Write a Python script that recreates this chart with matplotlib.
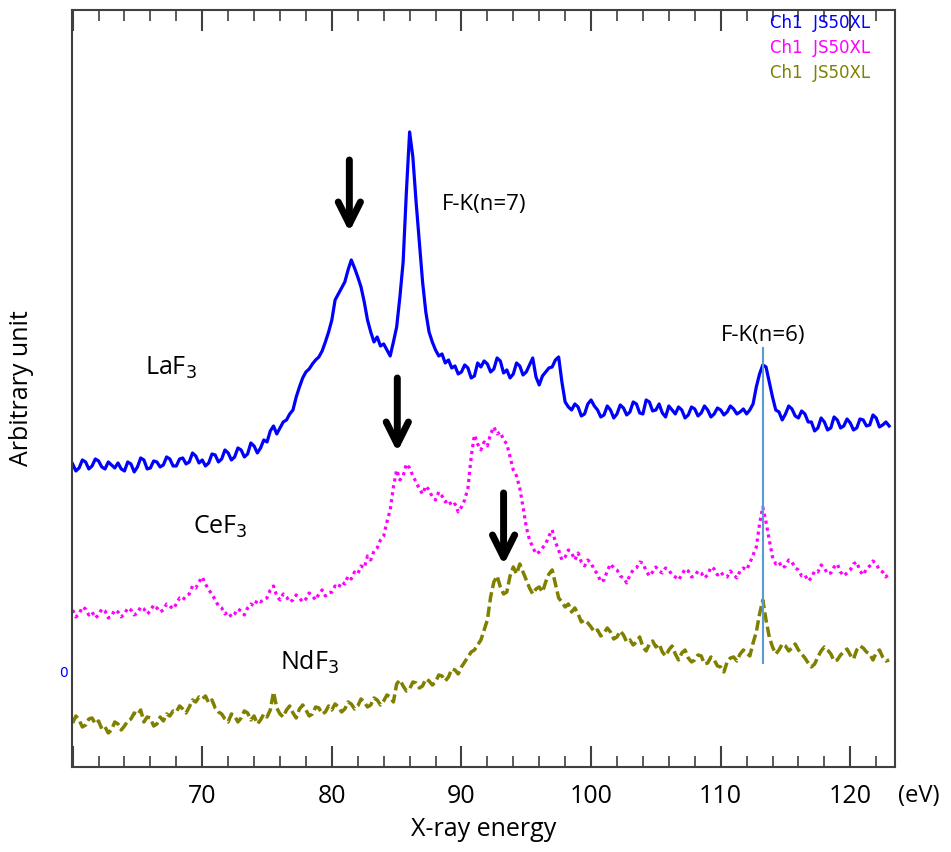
import numpy as np
import matplotlib
matplotlib.use('Agg')
import matplotlib.pyplot as plt

plt.rcParams['font.family'] = ['Open Sans', 'DejaVu Sans']

# X-ray energy (eV), 0.25 eV bins from 60 to 123
energy = np.linspace(60.0, 123.0, 253)

# LaF3 (offset, arbitrary unit)
laf3 = [208, 201, 204, 212, 210, 203, 206, 213, 211, 205, 203, 210, 207, 204, 209, 203, 201, 210, 208, 200,
        205, 214, 212, 203, 204, 211, 210, 205, 207, 215, 213, 206, 206, 213, 214, 208, 210, 219, 216, 209,
        212, 206, 209, 218, 217, 210, 213, 222, 219, 212, 215, 224, 222, 215, 218, 229, 226, 219, 224, 232,
        230, 241, 246, 238, 244, 250, 252, 258, 262, 275, 285, 294, 300, 303, 308, 312, 315, 321, 330, 340,
        352, 372, 378, 384, 390, 402, 412, 404, 395, 385, 370, 352, 340, 330, 335, 326, 328, 322, 316, 330,
        345, 375, 410, 480, 540, 515, 470, 430, 390, 360, 340, 330, 322, 316, 318, 309, 312, 304, 306, 298,
        300, 307, 304, 294, 296, 309, 305, 311, 308, 300, 303, 314, 311, 299, 302, 294, 298, 309, 306, 297,
        300, 307, 314, 295, 287, 296, 300, 304, 305, 312, 315, 290, 270, 265, 262, 268, 265, 256, 258, 268,
        272, 266, 262, 255, 257, 266, 262, 254, 258, 267, 264, 257, 260, 270, 268, 259, 258, 272, 270, 261,
        262, 268, 259, 255, 266, 262, 258, 265, 262, 254, 257, 265, 263, 256, 259, 266, 262, 255, 258, 264,
        262, 257, 260, 266, 263, 258, 260, 263, 258, 262, 268, 285, 298, 307, 305, 290, 275, 262, 260, 252,
        258, 266, 263, 256, 254, 261, 258, 250, 250, 241, 244, 254, 250, 242, 244, 255, 252, 244, 246, 253,
        249, 242, 244, 253, 252, 246, 247, 257, 254, 245, 247, 250, 246]

# CeF3
cef3 = [62, 55, 58, 65, 63, 57, 60, 54, 57, 63, 61, 54, 56, 62, 60, 55, 58, 64, 62, 57,
        59, 65, 63, 58, 61, 67, 64, 60, 62, 68, 66, 63, 68, 74, 72, 76, 78, 86, 84, 90,
        95, 88, 82, 78, 72, 66, 64, 58, 60, 55, 58, 63, 61, 57, 64, 68, 66, 72, 70, 73,
        74, 82, 86, 76, 72, 78, 75, 70, 72, 77, 74, 70, 73, 79, 76, 72, 78, 82, 76, 79,
        80, 86, 84, 90, 88, 96, 93, 100, 98, 106, 104, 116, 112, 121, 124, 132, 136, 150, 162, 185,
        202, 192, 196, 208, 204, 196, 190, 183, 178, 186, 182, 175, 172, 180, 176, 170, 172, 166, 168, 160,
        165, 172, 184, 215, 237, 228, 222, 230, 226, 238, 245, 238, 240, 232, 228, 215, 202, 196, 184, 165,
        145, 132, 125, 118, 120, 124, 128, 136, 142, 130, 122, 112, 115, 122, 119, 112, 119, 110, 106, 112,
        109, 102, 98, 90, 92, 101, 108, 104, 102, 96, 94, 89, 97, 102, 104, 110, 109, 101, 96, 100,
        105, 101, 99, 104, 102, 97, 95, 92, 97, 103, 101, 95, 96, 101, 99, 94, 97, 105, 103, 97,
        100, 96, 95, 101, 97, 94, 101, 104, 102, 109, 117, 125, 148, 165, 150, 132, 115, 108, 110, 104,
        106, 112, 110, 104, 102, 96, 97, 91, 94, 101, 100, 107, 104, 98, 99, 105, 108, 100, 96, 99,
        102, 108, 110, 101, 97, 103, 106, 111, 108, 102, 100, 95, 99]

# NdF3
ndf3 = [-51, -44, -48, -55, -53, -47, -46, -52, -49, -57, -55, -61, -58, -50, -52, -58, -54, -49, -47, -41,
        -43, -38, -50, -45, -46, -54, -52, -45, -49, -42, -44, -39, -40, -34, -37, -41, -35, -28, -30, -25,
        -27, -24, -31, -28, -36, -40, -42, -47, -50, -42, -44, -50, -46, -39, -41, -48, -44, -52, -48, -42,
        -45, -38, -20, -36, -42, -45, -38, -34, -41, -46, -37, -33, -38, -44, -42, -35, -36, -42, -40, -34,
        -38, -32, -35, -40, -37, -30, -32, -37, -34, -27, -30, -35, -33, -26, -28, -33, -29, -23, -25, -30,
        -12, -8, -14, -19, -17, -10, -11, -16, -14, -7, -9, -13, -10, -3, -4, -9, -5, 3, 2, -2,
        5, 10, 15, 20, 22, 27, 32, 42, 52, 75, 90, 96, 85, 78, 80, 96, 105, 98, 108, 100,
        92, 84, 78, 83, 85, 80, 90, 98, 102, 88, 74, 70, 65, 68, 60, 64, 58, 50, 52, 49,
        45, 40, 42, 36, 39, 44, 40, 33, 35, 41, 37, 30, 32, 27, 30, 35, 25, 21, 28, 31,
        25, 28, 20, 16, 22, 26, 18, 12, 19, 22, 14, 10, 12, 17, 16, 8, 9, 15, 12, 6,
        5, 0, 10, 14, 15, 11, 18, 22, 19, 16, 29, 40, 58, 72, 52, 35, 25, 18, 22, 28,
        26, 21, 24, 28, 22, 18, 14, 9, 5, 8, 15, 21, 25, 22, 18, 11, 12, 17, 20, 23,
        17, 13, 22, 26, 24, 20, 18, 12, 19, 22, 15, 11, 12]

# F-K (n=6) marker line
fk6_energy = 113.3
fk6_range = [9, 324]

# arrows: (energy, tail, head)
arrows = [(81.35, 512, 440), (85.05, 294, 220), (93.25, 179, 107)]

fig = plt.figure(figsize=(9.51, 8.52), dpi=100)
ax = fig.add_axes([0.0757, 0.0998, 0.8654, 0.8885])

ax.plot(energy, laf3, color='#0000ff', lw=2.3)
ax.plot(energy, cef3, color='#ff00ff', lw=2.3, ls=(0, (1, 1.2)))
ax.plot(energy, ndf3, color='#808000', lw=2.5, ls=(0, (3, 1.2)))
ax.plot([fk6_energy, fk6_energy], fk6_range, color='#5b9bd5', lw=1.5)

for x, y0, y1 in arrows:
    ax.annotate('', xy=(x, y1), xytext=(x, y0),
                arrowprops=dict(arrowstyle='->', lw=5, color='black',
                                mutation_scale=40, shrinkA=0, shrinkB=0))

ax.set_xlim(59.95, 123.45)
ax.set_ylim(-95, 662)

ax.set_xticks(range(60, 121, 10))
ax.set_xticklabels([''] + [str(v) for v in range(70, 121, 10)], fontsize=18)
ax.set_xticks(range(60, 124, 2), minor=True)
ax.tick_params(axis='x', which='major', direction='in', length=15, width=1.5,
               top=True, pad=12, color='#404040')
ax.tick_params(axis='x', which='minor', direction='in', length=8, width=1.2,
               top=True, color='#404040')
ax.set_yticks([0])
ax.set_yticklabels(['0'], color='#0000ff', fontsize=10, family='DejaVu Sans')
ax.tick_params(axis='y', length=0, pad=3)

for s in ax.spines.values():
    s.set_color('#404040')
    s.set_linewidth(1.5)

ax.set_xlabel('X-ray energy', fontsize=18, labelpad=6)
ax.set_ylabel('Arbitrary unit', fontsize=18, labelpad=18)

ax.text(1.004, -0.038, '(eV)', transform=ax.transAxes, fontsize=17,
        ha='left', va='center')

ax.text(88.5, 467, 'F-K(n=7)', fontsize=16, ha='left', va='center')
ax.text(113.3, 336, 'F-K(n=6)', fontsize=16, ha='center', va='center')
ax.text(65.6, 304, 'LaF$_3$', fontsize=18, ha='left', va='center')
ax.text(69.3, 145, 'CeF$_3$', fontsize=18, ha='left', va='center')
ax.text(76.0, 10, 'NdF$_3$', fontsize=18, ha='left', va='center')

legend_colors = ['#0000ff', '#ff00ff', '#808000']
for i, c in enumerate(legend_colors):
    ax.text(0.848, 0.983 - i * 0.033, 'Ch1  JS50XL', transform=ax.transAxes,
            color=c, fontsize=12, family='DejaVu Sans', ha='left', va='center')

fig.savefig('out.png', dpi=100)
